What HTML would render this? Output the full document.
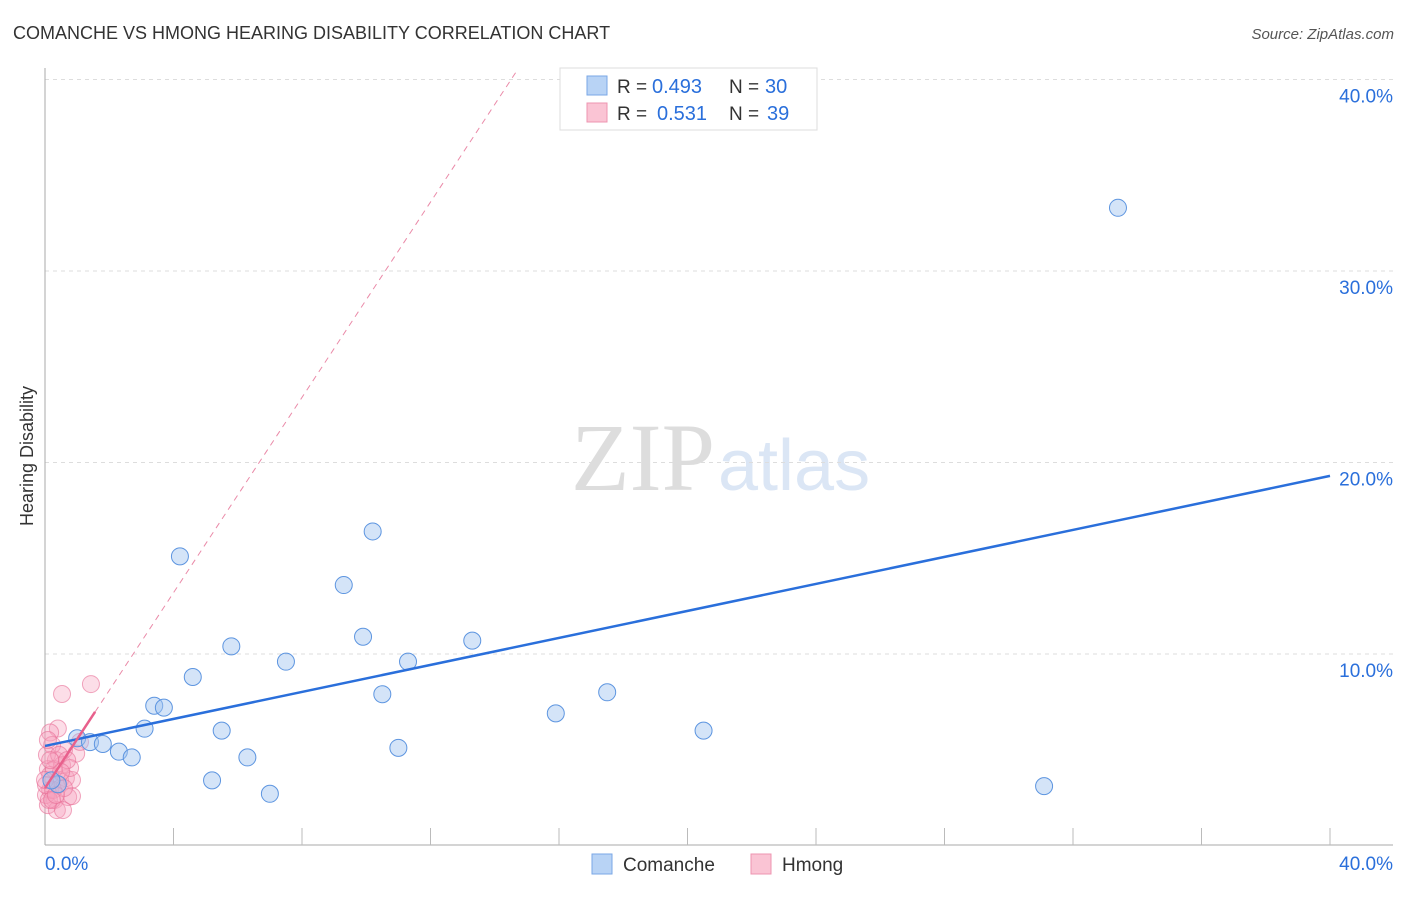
<!DOCTYPE html>
<html><head><meta charset="utf-8"><style>
body{margin:0;background:#fff;font-family:"Liberation Sans",sans-serif}
</style></head><body>
<svg width="1406" height="892" xmlns="http://www.w3.org/2000/svg">
<text x="13" y="39" font-size="18" fill="#333">COMANCHE VS HMONG HEARING DISABILITY CORRELATION CHART</text>
<text x="1394" y="39" font-size="15" fill="#555" font-style="italic" text-anchor="end">Source: ZipAtlas.com</text>
<text x="715" y="490" font-size="96" fill="#ddd" text-anchor="end" font-family="Liberation Serif">ZIP</text>
<text x="718" y="490" font-size="72" fill="#dbe6f5">atlas</text>
<text transform="translate(33,456) rotate(-90)" font-size="18" fill="#333" text-anchor="middle">Hearing Disability</text>
<g id="grid"></g><g id="marks"></g>
<g>
<rect x="560" y="68" width="257" height="62" fill="#fff" stroke="#ddd"/>
<rect x="587" y="76" width="20" height="19" fill="#b8d3f5" stroke="#7aa7e6"/>
<rect x="587" y="103" width="20" height="19" fill="#fac4d4" stroke="#ee94b0"/>
<text x="617" y="93" font-size="19" fill="#333">R =</text>
<text x="652" y="93" font-size="20" fill="#2a6fdb">0.493</text>
<text x="729" y="93" font-size="19" fill="#333">N =</text>
<text x="765" y="93" font-size="20" fill="#2a6fdb">30</text>
<text x="617" y="120" font-size="19" fill="#333">R =</text>
<text x="657" y="120" font-size="20" fill="#2a6fdb">0.531</text>
<text x="729" y="120" font-size="19" fill="#333">N =</text>
<text x="767" y="120" font-size="20" fill="#2a6fdb">39</text>
</g>
<g>
<rect x="592" y="854" width="20" height="20" fill="#b8d3f5" stroke="#7aa7e6"/>
<text x="623" y="871" font-size="19" fill="#333">Comanche</text>
<rect x="751" y="854" width="20" height="20" fill="#fac4d4" stroke="#ee94b0"/>
<text x="782" y="871" font-size="19" fill="#333">Hmong</text>
</g>
</svg>
<script>
const yTicks=[10,20,30,40];
const yTickLabels=["10.0%","20.0%","30.0%","40.0%"];
const blueX=[33.4,10.2,4.2,9.3,5.8,7.5,9.9,13.3,11.3,4.6,10.5,17.5,3.4,3.7,15.9,3.1,5.5,20.5,1.0,1.4,1.8,2.3,2.7,11.0,6.3,5.2,7.0,31.1,0.4,0.2];
const blueY=[33.3,16.4,15.1,13.6,10.4,9.6,10.9,10.7,9.6,8.8,7.9,8.0,7.3,7.2,6.9,6.1,6.0,6.0,5.6,5.4,5.3,4.9,4.6,5.1,4.6,3.4,2.7,3.1,3.2,3.4];
const pinkX=[0.53,1.43,0.40,0.16,0.97,0.59,0.34,0.09,0.22,0.47,0.65,0.84,0.16,0.31,0.09,0.72,0.84,0.40,0.03,0.16,0.53,0.06,0.25,0.37,0.12,0.59,0.78,0.03,0.28,0.44,0.69,0.09,0.22,0.34,0.50,0.0,0.16,0.56,1.09];
const pinkY=[7.91,8.43,6.11,5.90,4.80,4.99,4.46,3.99,5.25,3.42,3.52,3.42,2.90,2.38,2.11,2.53,2.58,3.16,2.64,3.68,4.20,4.73,2.90,1.85,2.38,3.00,4.05,3.16,3.99,4.73,4.46,5.51,2.38,2.64,3.84,3.42,4.46,1.85,5.41];
const blueTrend=[5.2,19.3];
const pinkTrend=[3.0,2.55];
const X=v=>45+v*32.125, Y=v=>845.5-v*19.15;
const NS="http://www.w3.org/2000/svg";
function mk(p,t,a){const e=document.createElementNS(NS,t);for(const k in a)e.setAttribute(k,a[k]);p.appendChild(e);return e;}
const g=document.getElementById('grid'), m=document.getElementById('marks');
yTicks.forEach((t,i)=>{
 const l=mk(g,'line',{x1:45,x2:1393,y1:Y(t),y2:Y(t),stroke:'#ddd','stroke-dasharray':'4,4'});
 
 
 const tx=mk(g,'text',{x:1393,y:Y(t)+23,'font-size':19,fill:'#2a6fdb','text-anchor':'end'});tx.textContent=yTickLabels[i];
 
 
});
mk(g,'line',{x1:45,x2:45,y1:68,y2:845,stroke:'#aaa'});
mk(g,'line',{x1:45,x2:1393,y1:845,y2:845,stroke:'#aaa'});
for(let i=1;i<=10;i++){const tk=mk(g,'line',{x1:X(i*4),x2:X(i*4),y1:828,y2:845,stroke:'#bbb'});
 
 }
let t0=mk(g,'text',{x:45,y:870,'font-size':19,fill:'#2a6fdb'});t0.textContent='0.0%';


let t1=mk(g,'text',{x:1393,y:870,'font-size':19,fill:'#2a6fdb','text-anchor':'end'});t1.textContent='40.0%';


pinkX.forEach((x,i)=>{const c=mk(m,'circle',{cx:X(x),cy:Y(pinkY[i]),r:8.5,fill:'rgba(246,160,190,0.35)',stroke:'rgba(232,110,150,0.6)'});
 
 });
blueX.forEach((x,i)=>{const c=mk(m,'circle',{cx:X(x),cy:Y(blueY[i]),r:8.5,fill:'rgba(160,196,240,0.45)',stroke:'#5d95e0'});
 
 });
const bl=mk(m,'line',{x1:X(0),y1:Y(blueTrend[0]),x2:X(40),y2:Y(blueTrend[1]),stroke:'#2a6fdb','stroke-width':2.5});


const xe=(40.5-pinkTrend[0])/pinkTrend[1];
const pd=mk(m,'line',{x1:X(1.56),y1:Y(pinkTrend[0]+pinkTrend[1]*1.56),x2:X(xe),y2:Y(pinkTrend[0]+pinkTrend[1]*xe),stroke:'#ea8aa8','stroke-width':1,'stroke-dasharray':'6,5'});


const ps=mk(m,'line',{x1:X(0),y1:Y(pinkTrend[0]),x2:X(1.56),y2:Y(pinkTrend[0]+pinkTrend[1]*1.56),stroke:'#e8608c','stroke-width':2.5});


</script>
</body></html>
